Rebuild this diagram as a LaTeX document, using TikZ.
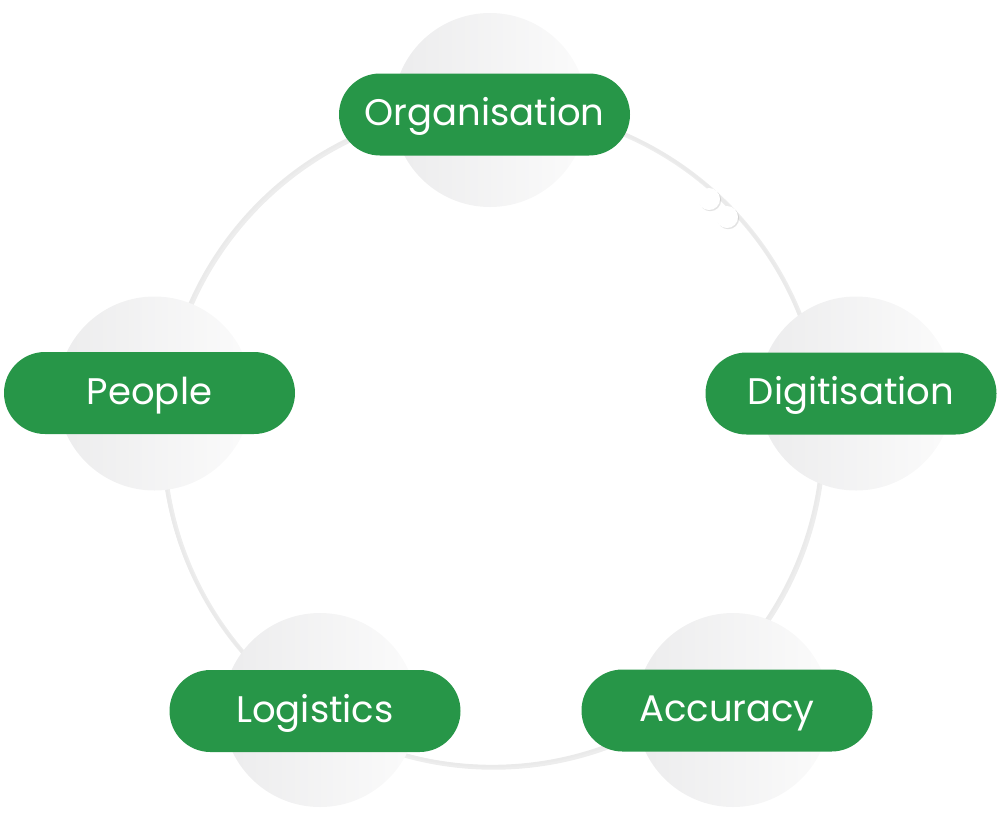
\documentclass[tikz,border=0pt]{standalone}
\usepackage{fontspec}
\setmainfont{Poppins}
\usepackage{xcolor}
\usetikzlibrary{shadows,calc}
\definecolor{leafgreen}{RGB}{39,150,72}
\definecolor{ringgray}{RGB}{234,234,234}
\definecolor{discleft}{RGB}{236,236,237}
\definecolor{discright}{RGB}{251,251,251}

\begin{document}
\begin{tikzpicture}[x=0.5pt, y=-0.5pt, font=\fontsize{18.5}{22}\selectfont,
  disc/.style={circle, draw=none, minimum size=97pt, inner sep=0pt, left color=discleft, right color=discright},
  pill/.style={rectangle, rounded corners=20.5pt, fill=leafgreen, text=white, minimum width=145.5pt, minimum height=41pt, inner sep=0pt, text height=13pt, text depth=2pt},
  bead/.style={circle, fill=white, minimum size=11pt, inner sep=0pt, drop shadow={shadow xshift=0.6pt, shadow yshift=-0.6pt, opacity=0.22}}]
\useasboundingbox (0,0) rectangle (1000,820);
% ring
\coordinate (hub) at (492,436);
\draw[black!7, line width=2.2pt] ([shift={(1.5,1.5)}]hub) circle[radius=330];
\draw[ringgray, line width=1.2pt] (hub) circle[radius=330];
% beads on the ring
\node[bead] (b1) at (709,199) {};
\node[bead] (b2) at (727,217) {};
% grey discs
\node[disc] (orgd) at (490,110) {};
\node[disc] (pepd) at (154.5,393.5) {};
\node[disc] (digd) at (856,393.5) {};
\node[disc] (logd) at (320,710) {};
\node[disc] (accd) at (733,710) {};
% labels
\node[pill] (org) at (484.5,114.5) {Organisation};
\node[pill] (pep) at (149.5,393) {People};
\node[pill] (dig) at (851,393.5) {Digitisation};
\node[pill] (log) at (315,711) {Logistics};
\node[pill] (acc) at (727,710.5) {Accuracy};
\end{tikzpicture}
\end{document}
